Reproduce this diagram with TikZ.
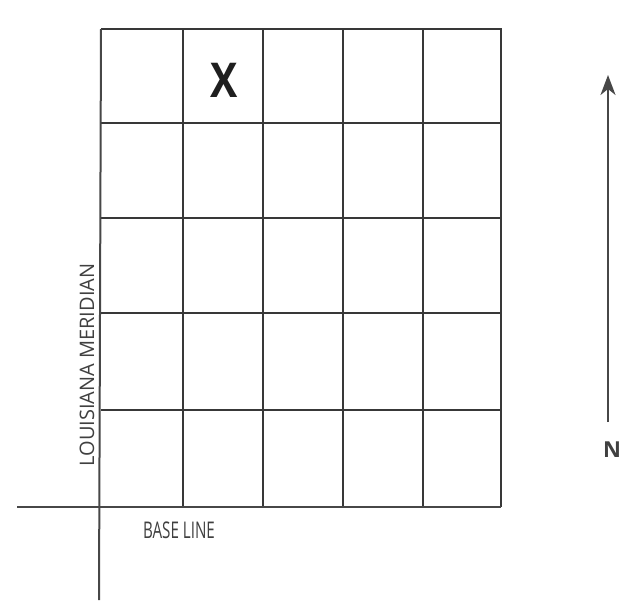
\documentclass[tikz,border=0pt]{standalone}
\usepackage{fontspec}
\usepackage{graphicx}
\setmainfont{Open Sans}
\usetikzlibrary{arrows.meta}
\begin{document}
\begin{tikzpicture}[x=1pt,y=-1pt,
  gridline/.style={draw=black!78,line width=1.6pt},
  axisline/.style={draw=black!72,line width=2pt},
  lbl/.style={text=black!75,inner sep=0pt}]
\useasboundingbox (0,0) rectangle (623,611);
% grid
\foreach \x in {183,263,343,423}{
  \coordinate (ct\x) at (\x,29); \coordinate (cb\x) at (\x,507);
  \draw[gridline] (ct\x) -- (cb\x);}
\foreach \y in {123,218,313,410}{
  \coordinate (rl\y) at (101,\y); \coordinate (rr\y) at (501,\y);
  \draw[gridline] (rl\y) -- (rr\y);}
\coordinate (tl) at (101,29); \coordinate (tr) at (501,29); \coordinate (br) at (501,507);
\draw[gridline] (tl) -- (tr) -- (br);
% axes
\coordinate (bl0) at (17,507); \coordinate (mt) at (101,29); \coordinate (mb) at (99,600);
\draw[axisline] (bl0) -- (br);
\draw[axisline] (mt) -- (mb);
% labels
\node[lbl,text=black!88,font=\bfseries\fontsize{48}{48}\selectfont] (x) at (224,80) {\scalebox{0.85}[1]{X}};
\node[lbl,font=\fontsize{23}{23}\selectfont] (base) at (179,530) {\scalebox{0.66}[1]{BASE LINE}};
\node[lbl,font=\fontsize{20}{20}\selectfont,rotate=90] (mer) at (87,365) {LOUISIANA MERIDIAN};
% north arrow
\coordinate (as) at (608,422); \coordinate (ae) at (608,75);
\draw[axisline,-{Stealth[length=20pt,width=15pt,inset=6pt]}] (as) -- (ae);
\node[lbl,font=\fontsize{22}{22}\selectfont] (n) at (612,450) {\textbf{N}};
\end{tikzpicture}
\end{document}
